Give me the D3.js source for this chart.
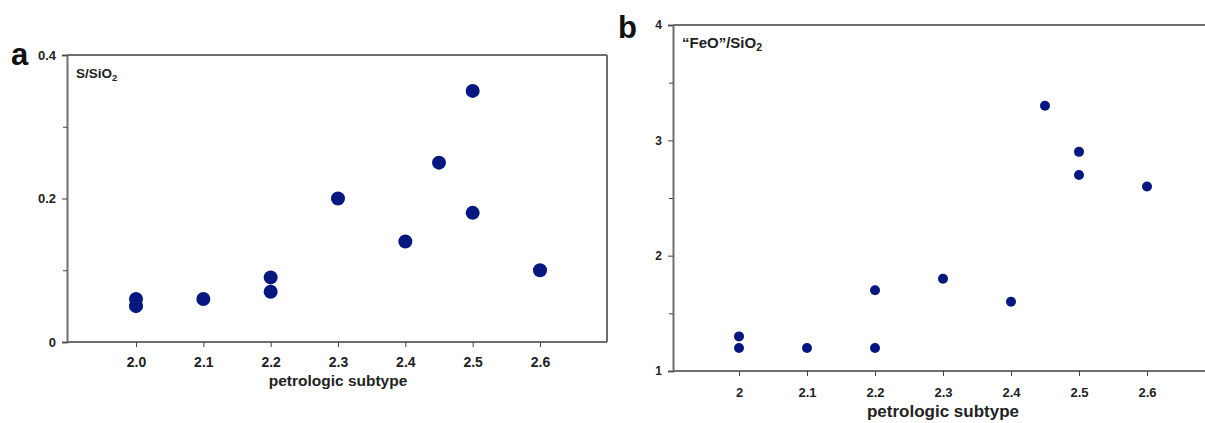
<!DOCTYPE html>
<html><head><meta charset="utf-8">
<script src="https://cdn.jsdelivr.net/npm/d3@7"></script>
<style>body{margin:0;background:#fff}svg{display:block}</style>
</head><body>
<svg id="c" width="1205" height="423"></svg>
<script>
// Panel a: S/SiO2 vs petrologic subtype
const subtypeA = [2.0, 2.0, 2.1, 2.2, 2.2, 2.3, 2.4, 2.45, 2.5, 2.5, 2.6];
const sSiO2   = [0.06, 0.05, 0.06, 0.09, 0.07, 0.20, 0.14, 0.25, 0.35, 0.18, 0.10];
const xTicksA = [2.0, 2.1, 2.2, 2.3, 2.4, 2.5, 2.6];
const xTickLabelsA = ["2.0", "2.1", "2.2", "2.3", "2.4", "2.5", "2.6"];
const yTicksA = [0, 0.2, 0.4];
const yMinorA = [0.1, 0.3];

// Panel b: "FeO"/SiO2 vs petrologic subtype
const subtypeB = [2.0, 2.0, 2.1, 2.2, 2.2, 2.3, 2.4, 2.45, 2.5, 2.5, 2.6];
const feoSiO2  = [1.3, 1.2, 1.2, 1.7, 1.2, 1.8, 1.6, 3.3, 2.9, 2.7, 2.6];
const xTicksB = [2.0, 2.1, 2.2, 2.3, 2.4, 2.5, 2.6];
const xTickLabelsB = ["2", "2.1", "2.2", "2.3", "2.4", "2.5", "2.6"];
const yTicksB = [1, 2, 3, 4];
const yMinorB = [1.5, 2.5, 3.5];

const svg = d3.select("#c");
const navy = "#06187f";
const axisCol = "#6e6e6e";
const font = "Arial, 'Liberation Sans', sans-serif";

function panel(o) {
  const g = svg.append("g");
  // scale anchored on the labelled ticks 2.0 and 2.6
  const x = d3.scaleLinear().domain([2.0, 2.6]).range([o.x20, o.x26]);
  const y = d3.scaleLinear().domain(o.yDomain).range([o.bottom, o.top]);
  // frame
  g.append("line").attr("x1", o.left).attr("x2", o.right).attr("y1", o.top).attr("y2", o.top)
    .attr("stroke", axisCol).attr("stroke-width", 2);
  if (o.frame) {
    g.append("line").attr("x1", o.right).attr("x2", o.right).attr("y1", o.top).attr("y2", o.bottom)
      .attr("stroke", axisCol).attr("stroke-width", 2);
  }
  // y axis
  const ya = d3.axisLeft(y).tickValues(o.yTicks).tickSize(5).tickPadding(6).tickFormat(o.yFmt);
  const yg = g.append("g").attr("transform", `translate(${o.left},0)`).call(ya);
  const ym = d3.axisLeft(y).tickValues(o.yMinor).tickSize(4).tickFormat("");
  const ymg = g.append("g").attr("transform", `translate(${o.left},0)`).call(ym);
  ymg.select(".domain").remove();
  // x axis
  const xa = d3.axisBottom(x).tickValues(o.xTicks).tickSize(5).tickPadding(o.xPad)
    .tickFormat((d, i) => o.xLabels[i]);
  const xg = g.append("g").attr("transform", `translate(0,${o.bottom})`).call(xa);
  xg.select(".domain").attr("d", `M${o.left},0H${o.right}`);
  [yg, xg, ymg].forEach(s => {
    s.selectAll(".domain").attr("stroke", axisCol).attr("stroke-width", 2);
    s.selectAll(".tick line").attr("stroke", "#444").attr("stroke-width", 1);
  });
  yg.selectAll("text").attr("font-family", font).attr("font-weight", "bold").attr("font-size", o.yFont).attr("fill", "#222");
  xg.selectAll("text").attr("font-family", o.xFontFamily).attr("font-weight", "bold").attr("font-size", o.xFont).attr("fill", "#222")
    .attr("font-stretch", o.xStretch);
  // points
  g.append("g").selectAll("circle").data(o.xs.map((v, i) => [v, o.ys[i]])).join("circle")
    .attr("cx", d => x(d[0])).attr("cy", d => y(d[1])).attr("r", o.r).attr("fill", navy);
  // inner label
  const t = g.append("text").attr("x", o.left + 9).attr("y", o.top + o.inLabelDy)
    .attr("font-family", font).attr("font-weight", "bold").attr("font-size", o.inFont).attr("fill", "#222");
  t.append("tspan").text(o.inLabel);
  t.append("tspan").attr("font-size", o.inFont * 0.7).attr("dy", 3).text("2");
  // x title
  g.append("text").attr("x", x(2.3)).attr("y", o.titleY).attr("text-anchor", "middle")
    .attr("font-family", font).attr("font-weight", "bold").attr("font-size", o.titleFont).attr("fill", "#222")
    .text("petrologic subtype");
  // panel letter
  g.append("text").attr("x", o.letterX).attr("y", o.letterY)
    .attr("font-family", font).attr("font-weight", "bold").attr("font-size", 31).attr("fill", "#111")
    .text(o.letter);
}

panel({
  left: 67, right: 607, x20: 136, x26: 540, top: 55, bottom: 342, yDomain: [0, 0.4],
  yTicks: yTicksA, yMinor: yMinorA, yFmt: d => d === 0 ? "0" : d3.format(".1f")(d),
  xTicks: xTicksA, xLabels: xTickLabelsA, xPad: 10, frame: true,
  xs: subtypeA, ys: sSiO2, r: 7,
  yFont: 13, xFont: 14, xFontFamily: font, xStretch: "normal",
  inLabel: "S/SiO", inFont: 13.5, inLabelDy: 23,
  titleY: 386, titleFont: 15.5,
  letter: "a", letterX: 11, letterY: 65
});

panel({
  left: 673, right: 1205, x20: 739, x26: 1147, top: 25, bottom: 371, yDomain: [1, 4],
  yTicks: yTicksB, yMinor: yMinorB, yFmt: d3.format("d"),
  xTicks: xTicksB, xLabels: xTickLabelsB, xPad: 12, frame: false,
  xs: subtypeB, ys: feoSiO2, r: 5,
  yFont: 12, xFont: 13, xFontFamily: "'Liberation Sans Narrow', 'Arial Narrow', Arial, sans-serif", xStretch: "condensed",
  inLabel: "\u201CFeO\u201D/SiO", inFont: 15, inLabelDy: 23,
  titleY: 417, titleFont: 17,
  letter: "b", letterX: 618, letterY: 38
});
</script>
</body></html>
